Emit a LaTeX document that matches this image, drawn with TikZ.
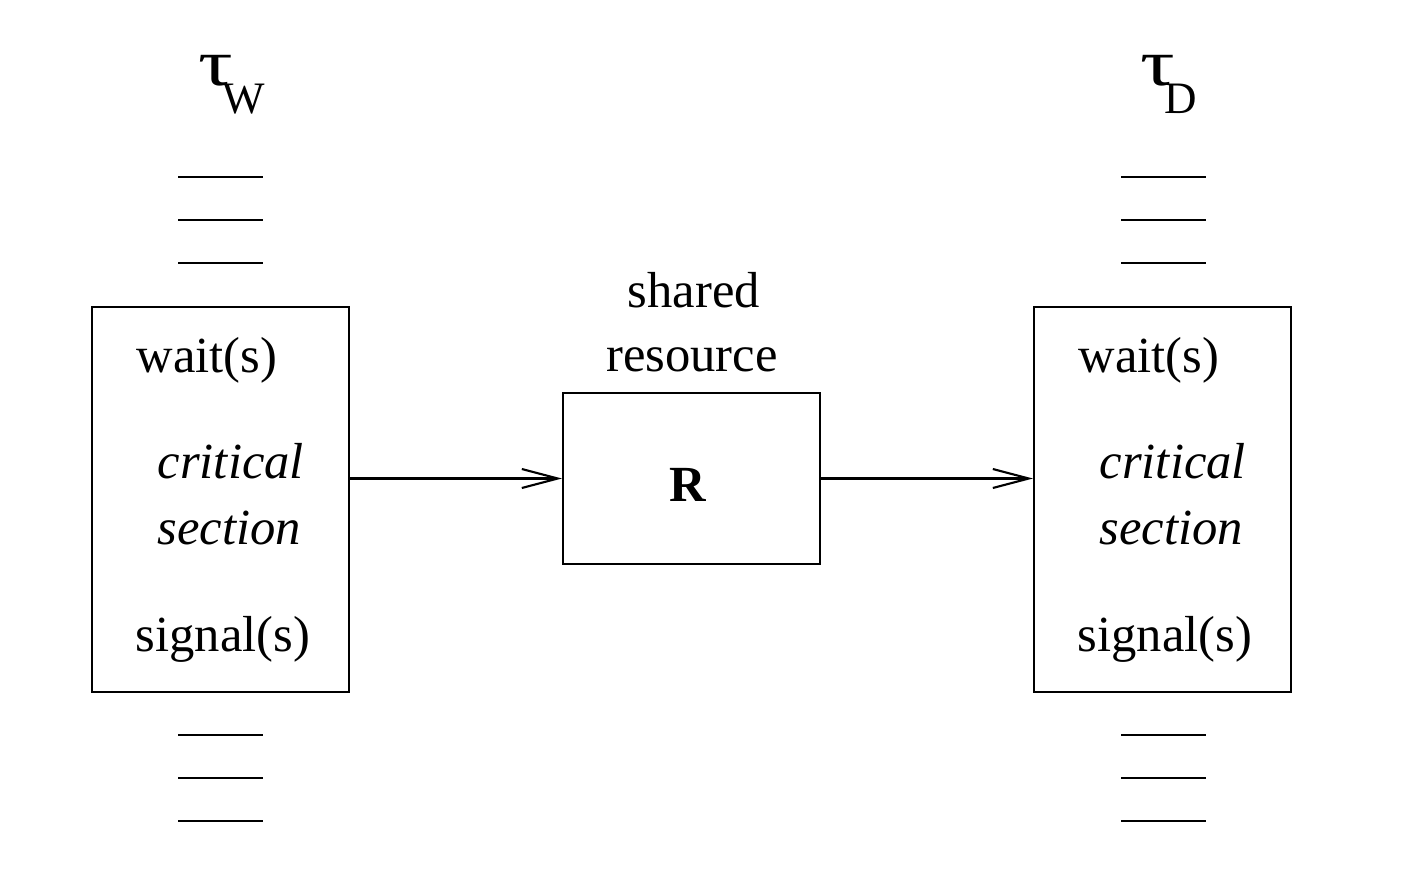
\documentclass[tikz,border=0pt]{standalone}
\usepackage{fontspec}
\setmainfont{Liberation Serif}
\usepackage{tikz}
\usetikzlibrary{arrows.meta,positioning,calc}

\newcommand{\taskname}[1]{\scalebox{1.7}[1.3]{τ}\kern-0.11cm\raisebox{-0.28cm}{\fontsize{12.8}{14}\selectfont #1}}

\tikzset{
    txt/.style={font=\fontsize{14.4}{17}\selectfont, inner sep=0pt},
    codebox/.style={draw, line width=0.6pt, minimum width=2.57cm, minimum height=3.85cm, inner sep=0pt},
    resbox/.style={draw, line width=0.6pt, minimum width=2.57cm, minimum height=1.71cm, inner sep=0pt},
    flow/.style={line width=0.6pt, -{Straight Barb[length=3.6mm,width=1.9mm]}},
    stub/.style={line width=0.6pt}
}

\begin{document}
\begin{tikzpicture}
    \useasboundingbox (0,0) rectangle (14.05,8.79);

    % 任务框
    \node[codebox] (tw) at (2.205,3.795) {};
    \node[codebox] (td) at (11.625,3.795) {};
    \node[resbox] (res) at (6.915,4.005) {};

    % 任务名
    \node[txt, anchor=base west] (twname) at (1.98,7.94) {\taskname{W}};
    \node[txt, anchor=base west] (tdname) at (11.40,7.94) {\taskname{D}};

    % 省略的代码行
    \foreach \x in {1.78,11.21} {
        \foreach \y in {7.02,6.59,6.16,1.44,1.01,0.58} {
            \draw[stub] (\x,\y) -- ++(0.85,0);
        }
    }

    % 框内代码
    \foreach \n/\dx in {w/0,d/9.42} {
        \node[txt, anchor=base west] (wait\n) at ({1.36+\dx},5.07) {wait(s)};
        \node[txt, anchor=base west] (crit\n) at ({1.57+\dx},4.01) {\itshape critical};
        \node[txt, anchor=base west] (sect\n) at ({1.57+\dx},3.35) {\itshape section};
        \node[txt, anchor=base west] (sig\n) at ({1.35+\dx},2.28) {signal(s)};
    }

    % 共享资源
    \node[txt, anchor=base] (shared) at (6.94,5.72) {shared};
    \node[txt, anchor=base] (resname) at (6.92,5.08) {resource};
    \node[txt, anchor=base] (rlabel) at (6.88,3.78) {\bfseries R};

    % 箭头
    \draw[flow] (tw.east |- res.west) -- (res.west);
    \draw[flow] (res.east) -- (td.west |- res.east);
\end{tikzpicture}
\end{document}
